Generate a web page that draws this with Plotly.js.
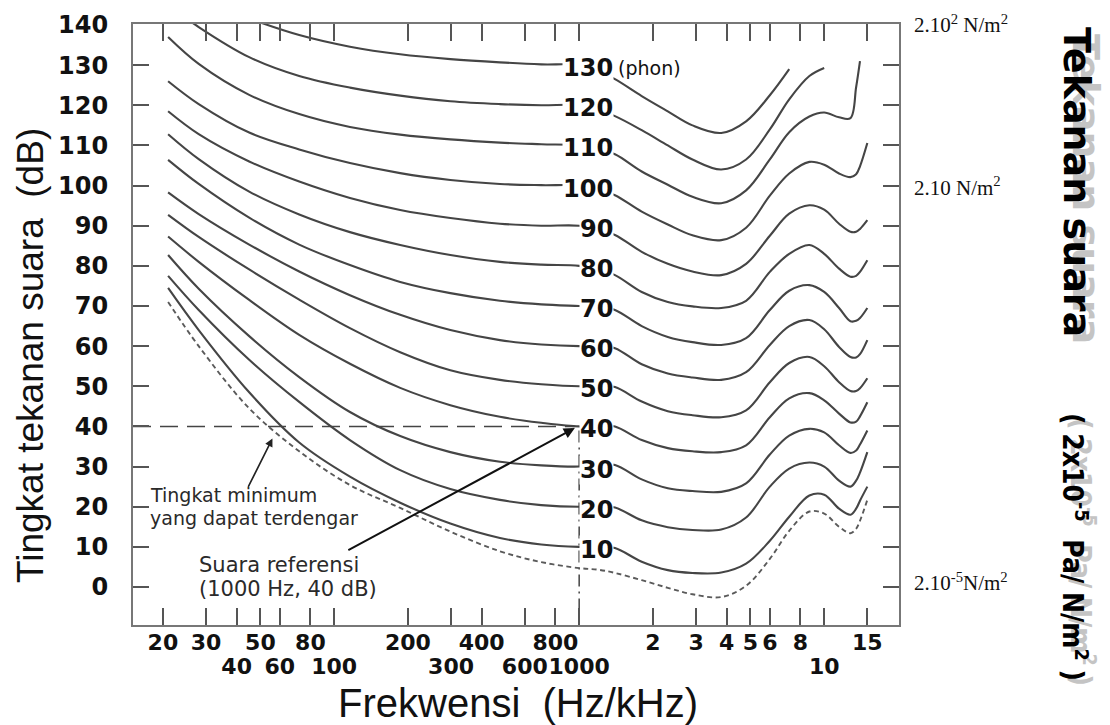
<!DOCTYPE html>
<html><head><meta charset="utf-8">
<script src="https://cdn.plot.ly/plotly-3.0.1.min.js"></script>
<style>html,body{margin:0;padding:0;background:#fff}</style>
</head><body>
<div id="chart" style="width:1110px;height:725px"></div>
<script>
// ---------- data ----------
const freqs = [21,28,45,72,116,186,298,475,700,1000,
               1200,1400,1800,2300,2900,3800,4800,6000,7200,8700,10000,11500,12800,13500,14000,15000];

const phon130 = [null,null,141.6,137.5,134.6,132.7,131.5,130.7,130.2,130,
                 128.5,126.5,122.3,118.5,115,113.1,116,122.5,129,null,null,null,null,null,null,null];
const phon120 = [145,139.5,132,127.3,124.4,122.4,121,120.3,120,120,
                 118.8,117.3,113.8,110,106.5,104,106.5,114,121.5,127.3,129.3,null,null,null,null,null];
const phon110 = [137,130.3,122.6,117.8,114.6,112.7,111.5,110.7,110.3,110,
                 109,107.8,103.5,100.2,97.2,95.6,98.8,106.5,113.3,117.2,118.2,117,116.8,124.5,131,null];
const phon100 = [126,120.3,113.2,109,105.6,103.1,101.4,100.4,100.1,100,
                 99,97.6,93.5,90.3,87.6,86.4,89.5,97.5,103,105.9,105.2,103,102.1,102.8,104.8,110.6];
const phon90  = [118.5,112.8,106,101,96.9,93.9,91.9,90.5,90,90,
                 89,87.7,83.5,80.5,78.6,77.7,80.5,87.5,93,95.1,94,90.5,88.5,88.5,89.2,91.4];
const phon80  = [112.8,106.6,98.5,92.8,88.4,85.2,82.7,81,80.3,80,
                 79,77.7,73.5,71,69.9,69.5,71.3,78.5,83,85.2,83,79.3,77.3,77.5,78.5,81.4];
const phon70  = [106.4,100.4,92,85.3,80.2,76,73.2,71.3,70.4,70,
                 69.8,69,65,62.3,61,60.3,62,69,73.8,75.2,73.5,69.5,66.2,66.3,67,69.5];
const phon60  = [98.3,92.9,85.3,78.6,72.7,67.8,64,61.5,60.4,60,
                 60.1,59.5,55.5,53.2,52.2,51.6,53.5,60.3,65,66.5,64.2,59.8,57.3,57.2,58,61.5];
const phon50  = [92.7,87.2,79.1,71.6,64.5,58.5,54,51.6,50.5,50,
                 50.2,49.8,46.2,43.8,42.8,42.3,44,51,55.8,57.3,55,51,48.8,48.8,49.5,52];
const phon40  = [87.3,81,71.5,62.8,55.6,49.6,45.3,42.4,40.9,40,
                 40.3,40,36.6,34.6,33.8,33.6,35.3,42.3,47,48.3,46.5,43.2,41,41.2,42.5,46];
const phon30  = [82.7,74.3,62.5,52.3,43.6,37.6,33.6,31.2,30.3,30,
                 30.5,30.4,26.8,24.6,23.9,23.7,25.8,33,37.7,39.4,38.5,35.3,33.4,34,35.5,39];
const phon20  = [77.5,69,56.6,46.1,36.6,29.1,24.4,21.7,20.4,20,
                 20.2,19.8,16.6,14.9,14.2,14.3,17.3,25,29.5,31,30,26.5,25,26.5,28.5,33.6];
const phon10  = [74.5,64,48.5,36,27.5,21,15.8,12.2,10.6,10,
                 10,9.7,6.3,4.2,3.5,3.6,5.8,11.5,17.5,22.8,23,19.5,18,19.5,21.5,25];
const threshold = [71,60,44.5,33.8,25.4,19.7,13.8,8.9,6.2,4.7,
                   4.3,3.5,1.7,-0.2,-1.8,-2.5,0.3,7,14,18.8,18.3,15,13.4,14.5,16.5,21.7];

const phonLevels = [130,120,110,100,90,80,70,60,50,40,30,20,10];
const phonSeries = [phon130,phon120,phon110,phon100,phon90,phon80,phon70,phon60,phon50,phon40,phon30,phon20,phon10];

const refFreq = 1000;       // Suara referensi (1000 Hz, 40 dB)
const refLevel = 40;
const minHearingPoint = [56, 37];   // arrow target on the threshold curve (Hz, dB)

const xTickVals = [20,30,40,50,60,80,100,200,300,400,600,800,1000,2000,3000,4000,5000,6000,8000,10000,15000];
const xRow1Vals = [20,30,50,80,200,400,800,2000,3000,4000,5000,6000,8000,15000];
const xRow1Text = ['20','30','50','80','200','400','800','2','3','4','5','6','8','15'];
const xRow2Vals = [40,60,100,300,600,1000,10000];
const xRow2Text = ['40','60','100','300','600','1000','10'];
const yTickVals = [0,10,20,30,40,50,60,70,80,90,100,110,120,130,140];
const pressureVals = [140, 99.5, 1];
const pressureText = ['2.10<sup>2</sup> N/m<sup>2</sup>', '2.10 N/m<sup>2</sup>', '2.10<sup>-5</sup>N/m<sup>2</sup>'];

// ---------- layout geometry ----------
const X0 = 133, X1 = 899, Y0 = 24, Y1 = 625;
const fMin = 15.1, fMax = 20200;
const xRange = [Math.log10(fMin), Math.log10(fMax)];
const yRange = [-9.47, 140.25];
const px = v => (v - X0) / (X1 - X0);
const py = v => (Y1 - v) / (Y1 - Y0);

const curveColor = '#454545';
const traces = [];
phonSeries.forEach(arr => traces.push({
  x: freqs, y: arr, type: 'scatter', mode: 'lines', connectgaps: false,
  line: {color: curveColor, width: 2.1, shape: 'spline', smoothing: 1},
  hoverinfo: 'skip', showlegend: false
}));
traces.push({
  x: freqs, y: threshold, xaxis: 'x3', yaxis: 'y', type: 'scatter', mode: 'lines',
  line: {color: '#5a5a5a', width: 1.9, dash: '5px,3.5px', shape: 'spline', smoothing: 1},
  hoverinfo: 'skip', showlegend: false
});
// reference lines (40 dB horizontal, 1000 Hz vertical)
traces.push({
  x: [fMin, refFreq * 0.96], y: [refLevel, refLevel], xaxis: 'x', yaxis: 'y2', type: 'scatter', mode: 'lines',
  line: {color: '#444', width: 1.5, dash: '18px,9px'}, hoverinfo: 'skip', showlegend: false
});
traces.push({
  x: [refFreq, refFreq], y: [refLevel - 1, yRange[0]], xaxis: 'x2', yaxis: 'y', type: 'scatter', mode: 'lines',
  line: {color: '#444', width: 1.5, dash: '12px,5px,2px,5px'}, hoverinfo: 'skip', showlegend: false
});

const boldTick = {family: 'DejaVu Sans', size: 24, weight: 'bold', color: '#111'};
const boldTickX = {family: 'DejaVu Sans', size: 22, weight: 'bold', color: '#111'};
const ann = [];
// phon labels on each curve at 1000 Hz
const labelFreq = 1386;
phonLevels.forEach(p => ann.push({
  x: Math.log10(labelFreq), y: p, xref: 'x', yref: 'y', text: String(p),
  xanchor: 'right', yanchor: 'middle', yshift: -3, showarrow: false,
  bgcolor: '#ffffff', borderpad: 0, font: boldTick
}));
ann.push({x: Math.log10(1410), y: 130, xref: 'x', yref: 'y', text: '(phon)', xanchor: 'left', yanchor: 'middle',
  yshift: -3, showarrow: false, font: {family: 'DejaVu Sans', size: 19, color: '#111'}});

// notes
const noteFont = {family: 'DejaVu Sans', size: 19, color: '#2a2a2a'};
ann.push({xref: 'paper', yref: 'paper', x: px(148), y: py(495), text: 'Tingkat minimum', xanchor: 'left', yanchor: 'middle', showarrow: false, font: noteFont});
ann.push({xref: 'paper', yref: 'paper', x: px(148), y: py(518), text: 'yang dapat terdengar', xanchor: 'left', yanchor: 'middle', showarrow: false, font: noteFont});
ann.push({xref: 'x', yref: 'y', x: Math.log10(minHearingPoint[0]), y: minHearingPoint[1], text: '', showarrow: true,
  ax: -25, ay: 50, arrowhead: 2, arrowsize: 1, arrowwidth: 1.6, arrowcolor: '#222'});
const refFont = {family: 'DejaVu Sans', size: 21, color: '#2a2a2a'};
ann.push({xref: 'paper', yref: 'paper', x: px(197), y: py(565), text: 'Suara referensi', xanchor: 'left', yanchor: 'middle', showarrow: false, font: refFont});
ann.push({xref: 'paper', yref: 'paper', x: px(197), y: py(589), text: '(1000 Hz, 40 dB)', xanchor: 'left', yanchor: 'middle', showarrow: false, font: refFont});
ann.push({xref: 'x', yref: 'y', x: Math.log10(refFreq * 0.96), y: refLevel - 0.4, text: '', showarrow: true,
  ax: -228, ay: 123, arrowhead: 2, arrowsize: 1.1, arrowwidth: 2, arrowcolor: '#111'});

// axis titles
ann.push({xref: 'paper', yref: 'paper', x: px(30), y: py(356), text: 'Tingkat tekanan suara  (dB)', textangle: -90,
  xanchor: 'center', yanchor: 'middle', showarrow: false,
  font: {family: 'Liberation Sans', size: 37, color: '#111'}});
ann.push({xref: 'paper', yref: 'paper', x: px(518), y: py(703), text: 'Frekwensi  (Hz/kHz)',
  xanchor: 'center', yanchor: 'middle', showarrow: false,
  font: {family: 'Liberation Sans', size: 40, color: '#111'}});

// right title (grey ghost + main)
const rt1 = 'Tekanan suara';
const rt2 = '( 2x10<sup>-5</sup>  Pa/ N/m<sup>2</sup> )';
const rtFont1 = {family: 'DejaVu Sans', size: 38, weight: 'bold'};
const rtFont2 = {family: "'DejaVu Sans Condensed', 'DejaVu Sans'", size: 28, weight: 'bold'};
ann.push({xref: 'paper', yref: 'paper', x: px(1086), y: py(189), text: rt1, textangle: 90, showarrow: false,
  xanchor: 'center', yanchor: 'middle', font: Object.assign({color: '#c4c4c4'}, rtFont1)});
ann.push({xref: 'paper', yref: 'paper', x: px(1077), y: py(182), text: rt1, textangle: 90, showarrow: false,
  xanchor: 'center', yanchor: 'middle', font: Object.assign({color: '#000'}, rtFont1)});
ann.push({xref: 'paper', yref: 'paper', x: px(1083), y: py(552), text: rt2, textangle: 90, showarrow: false,
  xanchor: 'center', yanchor: 'middle', font: Object.assign({color: '#c4c4c4'}, rtFont2)});
ann.push({xref: 'paper', yref: 'paper', x: px(1075), y: py(547), text: rt2, textangle: 90, showarrow: false,
  xanchor: 'center', yanchor: 'middle', font: Object.assign({color: '#000'}, rtFont2)});

const noLine = {showline: false, showgrid: false, zeroline: false, ticks: ''};
const layout = {
  width: 1110, height: 725, autosize: false,
  margin: {l: X0, r: 1110 - X1, t: Y0, b: 725 - Y1, pad: 0},
  paper_bgcolor: '#fff', plot_bgcolor: '#fff', showlegend: false,
  font: {family: 'DejaVu Sans', color: '#111'},
  xaxis: {type: 'log', range: xRange, autorange: false, tickmode: 'array', tickvals: xTickVals, showticklabels: false,
    ticks: 'inside', ticklen: 17, tickwidth: 2, tickcolor: '#555', showline: true, linecolor: '#777', linewidth: 2,
    mirror: 'ticks', showgrid: false, zeroline: false},
  xaxis2: Object.assign({type: 'log', range: xRange, autorange: false, overlaying: 'x', anchor: 'y', side: 'bottom',
    tickmode: 'array', tickvals: xRow1Vals, ticktext: xRow1Text, tickfont: boldTickX, ticklabelstandoff: 2, tickangle: 0}, noLine),
  xaxis3: Object.assign({type: 'log', range: xRange, autorange: false, overlaying: 'x', anchor: 'y', side: 'bottom',
    tickmode: 'array', tickvals: xRow2Vals, ticktext: xRow2Text, tickfont: boldTickX, ticklabelstandoff: 26, tickangle: 0}, noLine),
  yaxis: {range: yRange, autorange: false, tickmode: 'array', tickvals: yTickVals, ticks: 'inside', ticklen: 16,
    tickwidth: 2, tickcolor: '#555', showline: true, linecolor: '#777', linewidth: 2, mirror: 'ticks',
    showgrid: false, zeroline: false, tickfont: boldTick, ticklabelstandoff: 18},
  yaxis2: Object.assign({range: yRange, autorange: false, overlaying: 'y', side: 'right', anchor: 'x', tickmode: 'array',
    tickvals: pressureVals, ticktext: pressureText,
    tickfont: {family: 'Liberation Serif', size: 21, color: '#111'}, ticklabelstandoff: 14}, noLine),
  annotations: ann
};

Plotly.newPlot('chart', traces, layout, {staticPlot: true, displayModeBar: false});
</script>
</body></html>
